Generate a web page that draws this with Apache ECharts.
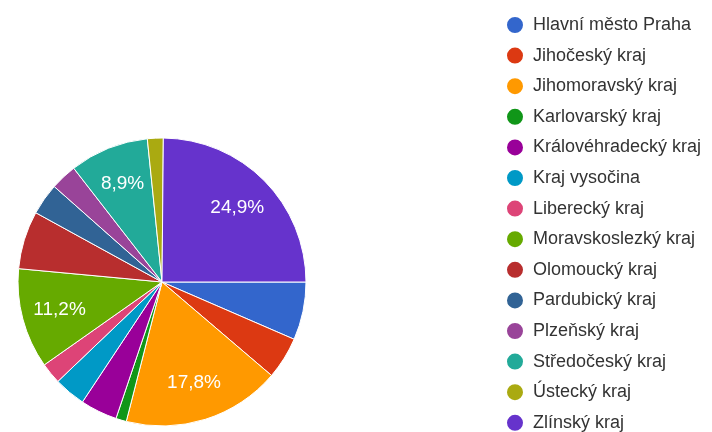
<!DOCTYPE html>
<html>
<head>
<meta charset="utf-8">
<script src="https://cdn.jsdelivr.net/npm/echarts@6/dist/echarts.min.js"></script>
<style>html,body{margin:0;padding:0;background:#fff}#c{width:712px;height:432px}</style>
</head>
<body>
<div id="c"></div>
<script>
const categories = ["Hlavní město Praha","Jihočeský kraj","Jihomoravský kraj","Karlovarský kraj","Královéhradecký kraj","Kraj vysočina","Liberecký kraj","Moravskoslezký kraj","Olomoucký kraj","Pardubický kraj","Plzeňský kraj","Středočeský kraj","Ústecký kraj","Zlínský kraj"];
const values = [11, 8, 30, 2, 7, 6, 4, 19, 11, 6, 5, 15, 3, 42];
const colors = ["#3366cc","#dc3912","#ff9900","#109618","#990099","#0099c6","#dd4477","#66aa00","#b82e2e","#316395","#994499","#22aa99","#aaaa11","#6633cc"];

const total = values.reduce((a, b) => a + b, 0);
const data = categories.map((n, i) => ({ name: n, value: values[i], itemStyle: { color: colors[i] } }));
const labelData = categories.map((n, i) => ({ name: n, value: values[i], itemStyle: { color: 'rgba(0,0,0,0)' } }));

const FONT = 'Liberation Sans, Arial, sans-serif';
const chart = echarts.init(document.getElementById('c'), null, { renderer: 'canvas' });
chart.setOption({
  animation: false,
  color: colors,
  textStyle: { fontFamily: FONT },
  legend: {
    orient: 'vertical',
    left: 500,
    top: 10,
    height: 430,
    icon: 'circle',
    itemWidth: 18,
    itemHeight: 18,
    itemGap: 10.6,
    data: categories,
    textStyle: { fontSize: 18, color: '#333', padding: [0, 0, 0, 4], fontFamily: FONT }
  },
  series: [
    {
      type: 'pie',
      center: [162, 282],
      radius: [0, 144],
      startAngle: 0,
      clockwise: true,
      silent: true,
      itemStyle: { borderColor: '#fff', borderWidth: 1 },
      label: { show: false },
      labelLine: { show: false },
      data: data
    },
    {
      type: 'pie',
      center: [162, 282],
      radius: [62, 144],
      startAngle: 0,
      clockwise: true,
      silent: true,
      itemStyle: { borderWidth: 0 },
      label: {
        show: true,
        position: 'inside',
        color: '#fff',
        fontSize: 19,
        fontFamily: FONT,
        formatter: p => {
          const pct = p.value / total * 100;
          return pct >= 8 ? pct.toFixed(1).replace('.', ',') + '%' : '';
        }
      },
      labelLine: { show: false },
      data: labelData
    }
  ]
});
</script>
</body>
</html>
